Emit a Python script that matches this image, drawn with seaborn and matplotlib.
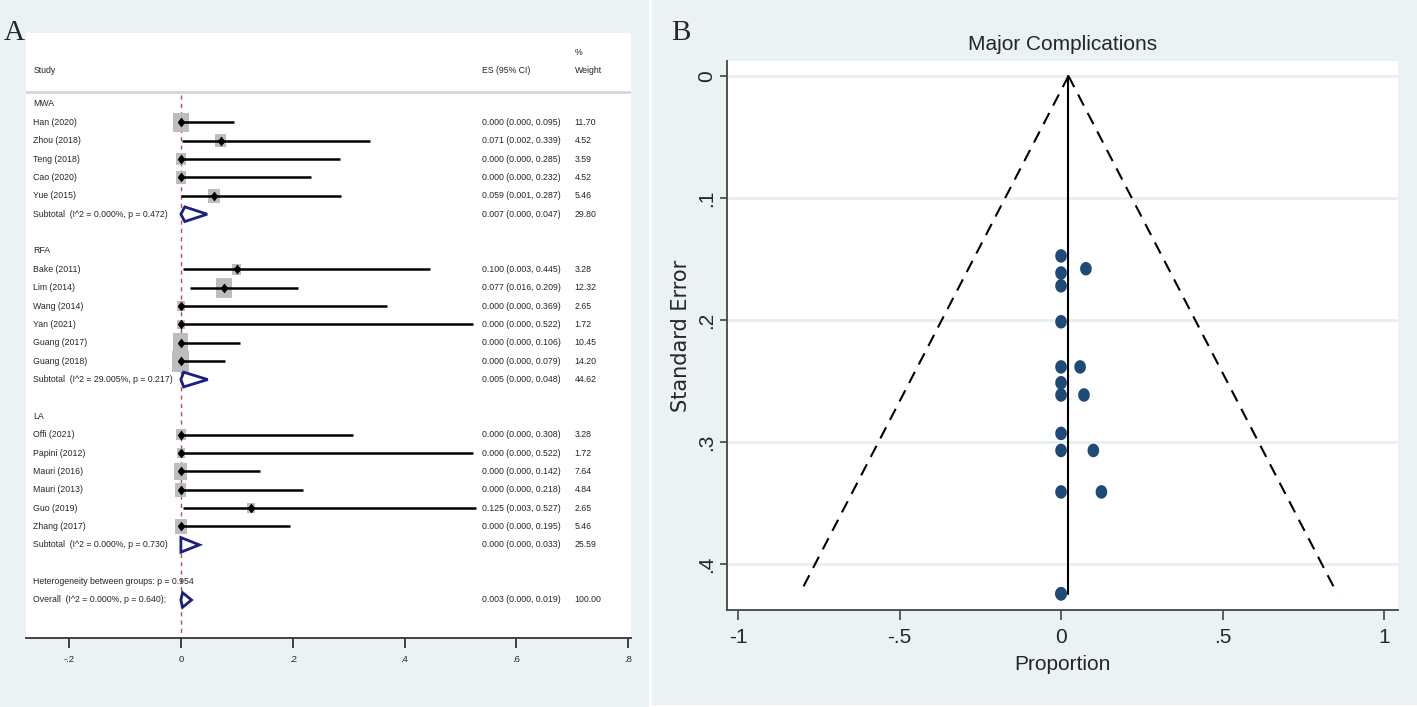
import numpy as np
import pandas as pd
import matplotlib
matplotlib.use("Agg")
import matplotlib.pyplot as plt
from matplotlib.patches import Polygon, Rectangle
from matplotlib.path import Path
from matplotlib import font_manager
import seaborn as sns

# ---------------- data: forest plot ----------------
groups = ["MWA", "RFA", "LA"]
studies = [
    ["Han (2020)", "Zhou (2018)", "Teng (2018)", "Cao (2020)", "Yue (2015)"],
    ["Bake (2011)", "Lim (2014)", "Wang (2014)", "Yan (2021)", "Guang (2017)", "Guang (2018)"],
    ["Offi (2021)", "Papini (2012)", "Mauri (2016)", "Mauri (2013)", "Guo (2019)", "Zhang (2017)"],
]
es = [[0.000, 0.071, 0.000, 0.000, 0.059],
      [0.100, 0.077, 0.000, 0.000, 0.000, 0.000],
      [0.000, 0.000, 0.000, 0.000, 0.125, 0.000]]
ci_lo = [[0.000, 0.002, 0.000, 0.000, 0.001],
         [0.003, 0.016, 0.000, 0.000, 0.000, 0.000],
         [0.000, 0.000, 0.000, 0.000, 0.003, 0.000]]
ci_hi = [[0.095, 0.339, 0.285, 0.232, 0.287],
         [0.445, 0.209, 0.369, 0.522, 0.106, 0.079],
         [0.308, 0.522, 0.142, 0.218, 0.527, 0.195]]
weights = [[11.70, 4.52, 3.59, 4.52, 5.46],
           [3.28, 12.32, 2.65, 1.72, 10.45, 14.20],
           [3.28, 1.72, 7.64, 4.84, 2.65, 5.46]]
sub_es = [0.007, 0.005, 0.000]
sub_lo = [0.000, 0.000, 0.000]
sub_hi = [0.047, 0.048, 0.033]
sub_w = [29.80, 44.62, 25.59]
sub_i2 = ["0.000%", "29.005%", "0.000%"]
sub_p = ["0.472", "0.217", "0.730"]
het_p = "0.954"
overall = [0.003, 0.000, 0.019, 100.00]
overall_i2, overall_p = "0.000%", "0.640"
forest_ticks = [-0.2, 0, 0.2, 0.4, 0.6, 0.8]
forest_ticklabels = ["-.2", "0", ".2", ".4", ".6", ".8"]

# ---------------- data: funnel plot ----------------
funnel_prop = [0, 0, 0, 0, 0, 0, 0, 0, 0, 0, 0, 0,
               0.077, 0.059, 0.071, 0.100, 0.125]
funnel_se = [0.1475, 0.1615, 0.172, 0.2015, 0.2385, 0.2515, 0.2615, 0.293, 0.307, 0.341, 0.4245, 0.4245,
             0.158, 0.2385, 0.2615, 0.307, 0.341]
pooled = 0.023
funnel_xticks = [-1, -0.5, 0, 0.5, 1]
funnel_xticklabels = ["-1", "-.5", "0", ".5", "1"]
funnel_yticks = [0, 0.1, 0.2, 0.3, 0.4]
funnel_yticklabels = ["0", ".1", ".2", ".3", ".4"]

# ---------------- style ----------------
sns.set_style("white")
names = {f.name for f in font_manager.fontManager.ttflist}
narrow = "Liberation Sans Narrow" if "Liberation Sans Narrow" in names else "Liberation Sans"
plt.rcParams["font.family"] = [narrow, "DejaVu Sans"]
BG = "#eaf2f3"

W, H = 1417, 707
fig = plt.figure(figsize=(W / 100, H / 100), dpi=100, facecolor=BG)

def frac(l, t, r, b):
    return [l / W, 1 - b / H, (r - l) / W, (b - t) / H]

# white separators
fig.patches.append(Rectangle((649 / W, 0), 3 / W, 1, transform=fig.transFigure,
                             facecolor="white", edgecolor="none", zorder=0))
fig.patches.append(Rectangle((652 / W, 0), 1 - 652 / W, 2 / H, transform=fig.transFigure,
                             facecolor="white", edgecolor="none", zorder=0))

# custom markers
tall_box = Path([(-0.4, -0.5), (0.4, -0.5), (0.4, 0.5), (-0.4, 0.5), (-0.4, -0.5)],
                [Path.MOVETO, Path.LINETO, Path.LINETO, Path.LINETO, Path.CLOSEPOLY])
tall_diamond = Path([(0, -0.5), (0.38, 0), (0, 0.5), (-0.38, 0), (0, -0.5)],
                    [Path.MOVETO, Path.LINETO, Path.LINETO, Path.LINETO, Path.CLOSEPOLY])
theta = np.linspace(0, 2 * np.pi, 40)
ellipse = Path(np.column_stack([0.43 * np.cos(theta), 0.5 * np.sin(theta)]))

# ================= Panel A: forest plot =================
axA = fig.add_axes(frac(26, 33, 631, 638))
axA.set_facecolor("white")

rows = []
r = 0
study_df = []
for g in range(3):
    rows.append(("group", r, groups[g])); r += 1
    for i, s in enumerate(studies[g]):
        study_df.append(dict(row=r, es=es[g][i], lo=ci_lo[g][i], hi=ci_hi[g][i], w=weights[g][i], name=s))
        r += 1
    rows.append(("sub", r, g)); r += 2
het_row = r; r += 1
overall_row = r
df = pd.DataFrame(study_df)

fs = 6.3
xl, xes, xw = -0.264, 0.539, 0.704
axA.text(xl, -1.85, "Study", fontsize=fs, va="center", ha="left")
axA.text(xes, -1.85, "ES (95% CI)", fontsize=fs, va="center", ha="left")
axA.text(xw, -1.85, "Weight", fontsize=fs, va="center", ha="left")
axA.text(xw, -2.83, "%", fontsize=fs, va="center", ha="left")
axA.axhline(-0.65, color="#d6d6d6", lw=2)

axA.hlines(df["row"], df["lo"], df["hi"], color="black", lw=1.8, zorder=3)
# box height (px) grows with sqrt(weight); converted to marker area in pt^2
box_sizes = {w: ((5.0 * np.sqrt(w) + 2.5) / 1.389) ** 2 for w in df["w"].unique()}
sns.scatterplot(data=df, x="es", y="row", size="w", sizes=box_sizes,
                marker=tall_box, color="#bdbdbd", edgecolor="none", legend=False, ax=axA, zorder=2)
sns.scatterplot(data=df, x="es", y="row", marker=tall_diamond, s=40, color="black",
                edgecolor="black", legend=False, ax=axA, zorder=4)

for _, d in df.iterrows():
    axA.text(xl, d["row"], d["name"], fontsize=fs, va="center")
    axA.text(xes, d["row"], f"{d['es']:.3f} ({d['lo']:.3f}, {d['hi']:.3f})", fontsize=fs, va="center")
    axA.text(xw, d["row"], f"{d['w']:.2f}", fontsize=fs, va="center")

def diamond(e, lo, hi, y, h=0.4):
    axA.add_patch(Polygon([(lo, y), (e, y - h), (hi, y), (e, y + h)], closed=True,
                          facecolor="white", edgecolor="#1a2080", lw=2.0, zorder=5))

for kind, row, val in rows:
    if kind == "group":
        axA.text(xl, row, val, fontsize=fs, va="center")
    else:
        g = val
        axA.text(xl, row, f"Subtotal  (I^2 = {sub_i2[g]}, p = {sub_p[g]})", fontsize=fs, va="center")
        axA.text(xes, row, f"{sub_es[g]:.3f} ({sub_lo[g]:.3f}, {sub_hi[g]:.3f})", fontsize=fs, va="center")
        axA.text(xw, row, f"{sub_w[g]:.2f}", fontsize=fs, va="center")
        diamond(sub_es[g], sub_lo[g], sub_hi[g], row)

axA.text(xl, het_row, f"Heterogeneity between groups: p = {het_p}", fontsize=fs, va="center")
axA.text(xl, overall_row, f"Overall  (I^2 = {overall_i2}, p = {overall_p});", fontsize=fs, va="center")
axA.text(xes, overall_row, f"{overall[0]:.3f} ({overall[1]:.3f}, {overall[2]:.3f})", fontsize=fs, va="center")
axA.text(xw, overall_row, f"{overall[3]:.2f}", fontsize=fs, va="center")
diamond(overall[0], overall[1], overall[2], overall_row)

axA.plot([0, 0], [-0.5, 29.07], color="#b84a5c", lw=1, dashes=(3, 3), zorder=1)

axA.set_xlim(-0.277, 0.805)
axA.set_ylim(29.07, -3.865)
axA.set_yticks([])
axA.set_xticks(forest_ticks)
axA.set_xticklabels(forest_ticklabels, fontsize=6.8)
axA.tick_params(axis="x", direction="out", length=7, width=1.3, color="#333333", pad=5, bottom=True)
for s in ["top", "right", "left"]:
    axA.spines[s].set_visible(False)
axA.spines["bottom"].set_color("#333333")
axA.spines["bottom"].set_linewidth(1.3)
axA.set_xlabel(""); axA.set_ylabel("")

# ================= Panel B: funnel plot =================
axB = fig.add_axes(frac(727, 61, 1398, 610))
axB.set_facecolor("white")
for yt in funnel_yticks:
    axB.axhline(yt, color="#e6eff1", lw=2, zorder=0)

max_se = max(funnel_se)
se_line = np.array([0, max_se])
axB.plot(pooled - 1.96 * se_line, se_line, color="black", lw=1.5, dashes=(6, 4))
axB.plot(pooled + 1.96 * se_line, se_line, color="black", lw=1.5, dashes=(6, 4))
axB.plot([pooled, pooled], se_line, color="black", lw=1.5)

fdf = pd.DataFrame({"Proportion": funnel_prop, "SE": funnel_se})
sns.scatterplot(data=fdf, x="Proportion", y="SE", s=95, marker=ellipse, color="#1d4a78",
                edgecolor="none", ax=axB, zorder=4, legend=False)

axB.set_xlim(-1.034, 1.043)
axB.set_ylim(0.4378, -0.0123)
axB.set_xticks(funnel_xticks)
axB.set_xticklabels(funnel_xticklabels, fontsize=15)
axB.set_yticks(funnel_yticks)
axB.set_yticklabels(funnel_yticklabels, fontsize=15, rotation=90, va="center")
axB.tick_params(axis="x", direction="out", length=7, width=1.2, color="#444444", pad=6, bottom=True)
axB.tick_params(axis="y", direction="out", length=5, width=1.2, color="#444444", pad=3, left=True)
for s in ["top", "right"]:
    axB.spines[s].set_visible(False)
for s in ["left", "bottom"]:
    axB.spines[s].set_color("#444444")
    axB.spines[s].set_linewidth(1.3)
axB.set_xlabel("Proportion", fontsize=15, labelpad=6)
axB.set_ylabel("Standard Error", fontsize=15, labelpad=4, family=["DejaVu Sans"])
axB.set_title("Major Complications", fontsize=15, pad=8)

# panel letters
fig.text(4 / W, 1 - 40 / H, "A", fontsize=21, family="Liberation Serif", va="baseline")
fig.text(671 / W, 1 - 40 / H, "B", fontsize=21, family="Liberation Serif", va="baseline")

fig.savefig("out.png", dpi=100, facecolor=BG)
